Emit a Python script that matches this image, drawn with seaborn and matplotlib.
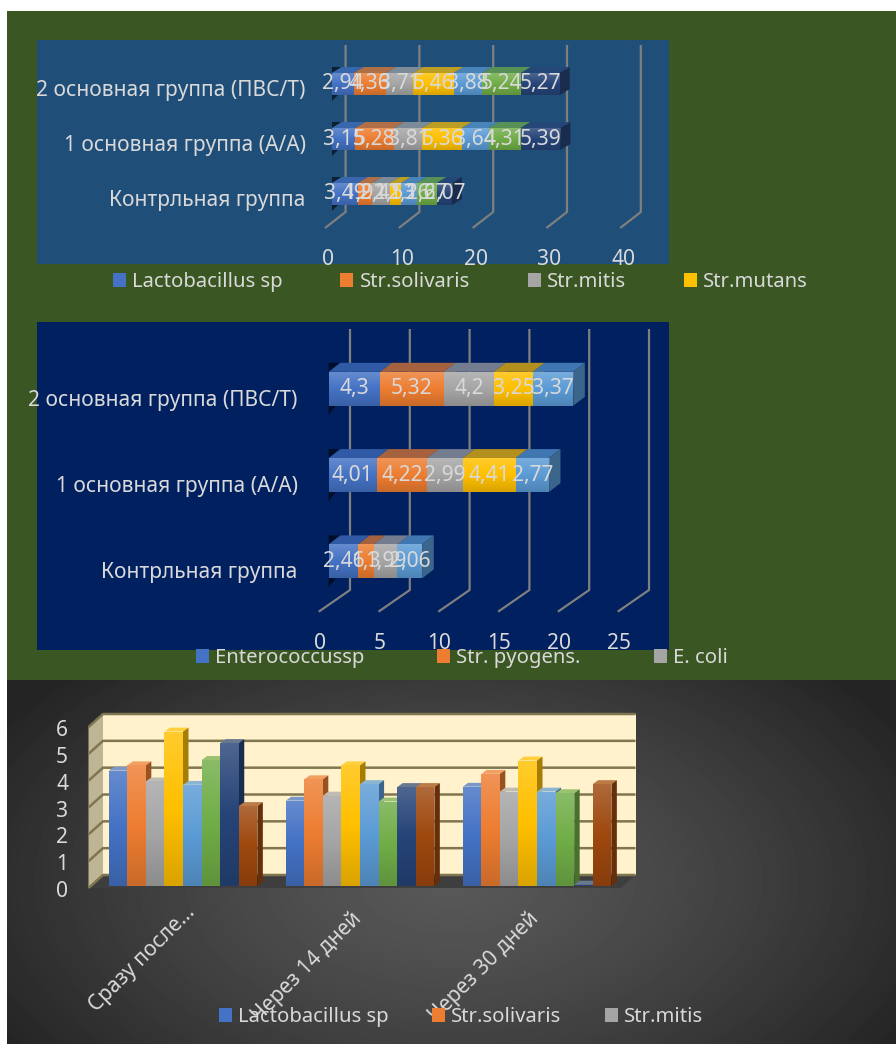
import numpy as np
import pandas as pd
import matplotlib
matplotlib.use("Agg")
import matplotlib.pyplot as plt
from matplotlib.colors import to_rgb
from matplotlib.patches import Patch, Polygon
from matplotlib.transforms import ScaledTranslation
import seaborn as sns

sns.set_theme(style="white")
plt.rcParams["font.family"] = ["Noto Sans", "DejaVu Sans"]

# Upper chart: oral flora by study group
groups = ["2 основная группа (ПВС/Т)", "1 основная группа (А/А)", "Контрльная группа"]
flora_names = ["Lactobacillus sp", "Str.solivaris", "Str.mitis", "Str.mutans",
               "Str.salivarius", "Str.sanguis", "Str.oralis"]
lactobacillus = [2.94, 3.15, 3.49]
solivaris = [4.36, 5.28, 1.92]
mitis = [3.71, 3.81, 2.41]
mutans = [5.46, 5.36, 1.53]
salivarius = [3.88, 3.64, 2.16]
sanguis = [5.24, 4.31, 2.67]
oralis = [5.27, 5.39, 2.07]
flora_series = [lactobacillus, solivaris, mitis, mutans, salivarius, sanguis, oralis]
flora_ticks = [0, 10, 20, 30, 40]
flora_legend = 4

# Middle chart: opportunistic flora by study group
opportunist_names = ["Enterococcussp", "Str. pyogens.", "E. coli", "S. aureus", "Candida"]
enterococcus = [4.3, 4.01, 2.46]
pyogenes = [5.32, 4.22, 1.3]
ecoli = [4.2, 2.99, 1.99]
aureus = [3.25, 4.41, 0.0]
candida = [3.37, 2.77, 2.06]
opportunist_series = [enterococcus, pyogenes, ecoli, aureus, candida]
opportunist_ticks = [0, 5, 10, 15, 20, 25]
opportunist_legend = 3

# Lower chart: counts over follow-up time
periods = ["Сразу после...", "Через 14 дней", "Через 30 дней"]
time_names = ["Lactobacillus sp", "Str.solivaris", "Str.mitis", "Str.mutans",
              "Str.salivarius", "Str.sanguis", "Str.oralis", "Enterococcus sp"]
time_values = [
    [4.3, 3.18, 3.7],
    [4.5, 3.98, 4.18],
    [3.9, 3.37, 3.52],
    [5.76, 4.5, 4.68],
    [3.77, 3.8, 3.52],
    [4.7, 3.15, 3.46],
    [5.33, 3.69, 0.05],
    [2.98, 3.69, 3.8],
]
time_ticks = [0, 1, 2, 3, 4, 5, 6]
time_legend = 3

office = ["#4472C4", "#ED7D31", "#A5A5A5", "#FFC000", "#5B9BD5", "#70AD47", "#264478", "#9E480E"]
TEXT = "#D9D9D9"
FONT = 15.1
LEGEND_FONT = 14.6
W, H = 896, 1044

fig = plt.figure(figsize=(W / 100, H / 100), dpi=100, facecolor="white")


def box(left, top, right, bottom):
    return fig.add_axes([left / W, 1 - bottom / H, (right - left) / W, (bottom - top) / H])


def mix(color, other, t):
    a, b = np.array(to_rgb(color)), np.array(to_rgb(other))
    return tuple(a * (1 - t) + b * t)


def shift(label, dx, dy):
    label.set_transform(label.get_transform() + ScaledTranslation(dx / 100, dy / 100, fig.dpi_scale_trans))


def shade(ax, rect, z):
    # Soft vertical sheen over a bar's front face
    x0, x1 = rect.get_x(), rect.get_x() + rect.get_width()
    y0, y1 = sorted((rect.get_y(), rect.get_y() + rect.get_height()))
    rows = np.linspace(0, 1, 32)
    rgba = np.zeros((32, 1, 4))
    rgba[:, 0, :3] = np.where(rows[:, None] < 0.5, 1.0, 0.0)
    rgba[:, 0, 3] = np.abs(rows - 0.5) * (0.36 * (rows < 0.5) + 0.30 * (rows >= 0.5))
    inverted = ax.yaxis_inverted()
    extent = (x0, x1, y1, y0) if inverted else (x0, x1, y0, y1)
    ax.imshow(rgba, extent=extent, aspect="auto", origin="upper", zorder=z, interpolation="bilinear")


def extrude(ax, rect, dx, dy, color, panel, z):
    # Top and right faces of a bar, offset into the chart depth
    x0, x1 = rect.get_x(), rect.get_x() + rect.get_width()
    y0, y1 = rect.get_y(), rect.get_y() + rect.get_height()
    ytop, ybot = (y0, y1) if ax.yaxis_inverted() else (y1, y0)
    ax.add_patch(Polygon([(x0, ytop), (x1, ytop), (x1 + dx, ytop + dy), (x0 + dx, ytop + dy)],
                         fc=mix(color, panel, 0.3), ec="none", zorder=z))
    ax.add_patch(Polygon([(x1, ytop), (x1 + dx, ytop + dy), (x1 + dx, ybot + dy), (x1, ybot)],
                         fc=mix(color, "black", 0.35), ec="none", zorder=z))


def add_legend(ax, names, colors, x, y, gap):
    handles = [Patch(fc=c, ec="none") for c in colors]
    ax.legend(handles, names, loc="center left", bbox_to_anchor=(x / W, 1 - y / H),
              bbox_transform=fig.transFigure, ncol=len(names), frameon=False, fontsize=LEGEND_FONT,
              labelcolor=TEXT, handlelength=0.64, handleheight=0.64, handletextpad=0.3,
              columnspacing=gap, borderpad=0, borderaxespad=0)


# Page background
bg = box(0, 0, W, H)
bg.set_xlim(0, W)
bg.set_ylim(H, 0)
bg.axis("off")
bg.fill_between([7, W], 11, 680, color="#3A5723", lw=0)
bg.fill_between([37, 669], 40, 264, color="#1F4E79", lw=0)
bg.fill_between([37, 669], 322, 650, color="#002060", lw=0)
yy, xx = np.mgrid[680:1044, 7:896]
rad = np.sqrt(((xx - 450) / 520.0) ** 2 + ((yy - 880) / 300.0) ** 2)
glow = np.clip(0.345 - 0.2 * np.clip(rad, 0, 1) ** 1.3, 0, 1)
bg.imshow(glow, extent=(7, W, 1044, 680), cmap="gray", vmin=0, vmax=1, aspect="auto", zorder=2)
bg.set_xlim(0, W)
bg.set_ylim(H, 0)


def stacked(frame, groups, names, series, ticks, n_legend, panel, x0, ppu, y0, step, bar_px,
            depth, grid, tick_dx, cat_dy, legend_at, legend_gap):
    left, top, right, bottom = frame
    ax = box(left, top, right, bottom)
    ax.patch.set_visible(False)
    px_x = lambda p: (p - x0) / ppu
    px_y = lambda p: (p - y0) / step
    dx, dy = depth[0] / ppu, -depth[1] / step
    back, front, grid_top, grid_bot, floor = grid
    for t in ticks:
        pos = t * ppu
        ax.plot([px_x(back + pos)] * 2 + [px_x(front + pos)],
                [px_y(grid_top), px_y(grid_bot), px_y(floor)],
                color="#7F7F7F", lw=1.6, zorder=1, solid_capstyle="butt")
    running = np.zeros(len(groups))
    for i, (vals, color) in enumerate(zip(series, office)):
        vals = np.array(vals, dtype=float)
        sns.barplot(x=vals, y=groups, order=groups, color=color, saturation=1, errorbar=None,
                    left=running, width=bar_px / step, ax=ax, orient="y", zorder=4 + i * 3,
                    linewidth=0)
        cont = ax.containers[-1]
        for rect in cont.patches:
            if rect.get_width() > 0:
                extrude(ax, rect, dx, dy, color, panel, 3 + i * 3)
                shade(ax, rect, 5 + i * 3)
        labels = [format(v, "g").replace(".", ",") if v > 0 else "" for v in vals]
        ax.bar_label(cont, labels=labels, label_type="center", color=TEXT, fontsize=FONT, zorder=60)
        running = running + vals
    # Shadow notches where the bars meet the axis wall
    for c in range(len(groups)):
        yc_top = c - bar_px / step / 2
        yc_bot = c + bar_px / step / 2
        ax.add_patch(Polygon([(0, yc_top), (dx * 0.9, yc_top + dy), (0, yc_top + dy)],
                             fc=mix(panel, "black", 0.6), ec="none", zorder=2))
        ax.add_patch(Polygon([(0, yc_bot), (dx * 0.6, yc_bot), (0, yc_bot - dy)],
                             fc=mix(panel, "black", 0.6), ec="none", zorder=2))
    ax.set_xlim(px_x(left), px_x(right))
    ax.set_ylim(px_y(bottom), px_y(top))
    ax.set_xticks(ticks)
    ax.set_xticklabels([str(t) for t in ticks])
    ax.tick_params(axis="both", length=0, pad=1, labelsize=FONT, labelcolor=TEXT)
    ax.tick_params(axis="x", pad=2.5)
    ax.set_xlabel("")
    ax.set_ylabel("")
    ax.grid(False)
    sns.despine(ax=ax, left=True, bottom=True)
    for lab in ax.get_xticklabels():
        shift(lab, tick_dx, 0)
    for lab in ax.get_yticklabels():
        shift(lab, 0, -cat_dy)
    add_legend(ax, names[:n_legend], office[:n_legend], legend_at[0], legend_at[1], legend_gap)
    return ax


stacked((307, 40, 669, 246), groups, flora_names, flora_series, flora_ticks, flora_legend,
        "#1F4E79", x0=332, ppu=7.38, y0=84, step=55, bar_px=22, depth=(10, 6),
        grid=(345.6, 325, 45, 212, 228), tick_dx=-4, cat_dy=4,
        legend_at=(113, 282), legend_gap=2.85)

stacked((299, 322, 669, 630), groups, opportunist_names, opportunist_series, opportunist_ticks,
        opportunist_legend, "#002060", x0=328.7, ppu=11.96, y0=388.8, step=86.3, bar_px=34,
        depth=(11.7, 9), grid=(350, 318.7, 329, 590, 611.7), tick_dx=-9, cat_dy=9,
        legend_at=(196, 658), legend_gap=3.6)

# Lower chart: clustered columns in front of a cream wall
ax3 = box(75, 700, 660, 900)
ax3.patch.set_visible(False)
px3_x = lambda p: (p - 183) / 177
px3_y = lambda p: (886 - p) / 26.8
ax3.add_patch(Polygon([(px3_x(103), px3_y(714)), (px3_x(635.5), px3_y(714)),
                       (px3_x(635.5), px3_y(875)), (px3_x(103), px3_y(875))],
                      fc="#FFF2CC", ec="none", zorder=0.5))
ax3.add_patch(Polygon([(px3_x(88.5), px3_y(727)), (px3_x(103), px3_y(714)),
                       (px3_x(103), px3_y(875)), (px3_x(88.5), px3_y(888))],
                      fc="#BDB594", ec="none", zorder=0.5))
ax3.add_patch(Polygon([(px3_x(88.5), px3_y(888)), (px3_x(103), px3_y(875)),
                       (px3_x(635.5), px3_y(875)), (px3_x(621), px3_y(888))],
                      fc="#3E3E3E", ec="none", zorder=0.5))
for level in time_ticks:
    wall_y = 875 - level * 26.83
    ax3.plot([px3_x(88.5), px3_x(103), px3_x(635.5)],
             [px3_y(wall_y + 13), px3_y(wall_y), px3_y(wall_y)],
             color="#7F7650", lw=1.8, zorder=1, solid_capstyle="butt")

long_time = pd.DataFrame({
    "period": [p for _ in time_names for p in periods],
    "species": [n for n in time_names for _ in periods],
    "count": [v for row in time_values for v in row],
})
sns.barplot(data=long_time, x="period", y="count", hue="species", order=periods, hue_order=time_names,
            palette=office, saturation=1, errorbar=None, width=0.84, dodge=True, legend=False, ax=ax3,
            linewidth=0)
for i, (cont, color) in enumerate(zip(ax3.containers, office)):
    for rect in cont.patches:
        rect.set_zorder(4 + i * 3)
        extrude(ax3, rect, 5.5 / 177, 4 / 26.8, color, "#FFF2CC", 3 + i * 3)
        shade(ax3, rect, 5 + i * 3)
ax3.set_xlim(px3_x(75), px3_x(660))
ax3.set_ylim(px3_y(900), px3_y(700))
ax3.set_yticks(time_ticks)
ax3.set_xlabel("")
ax3.set_ylabel("")
ax3.grid(False)
ax3.tick_params(axis="both", length=0, labelsize=FONT, labelcolor=TEXT)
ax3.tick_params(axis="y", pad=5)
ax3.tick_params(axis="x", pad=11)
sns.despine(ax=ax3, left=True, bottom=True)
for lab in ax3.get_yticklabels():
    shift(lab, 0, -3)
ax3.set_xticks(range(len(periods)))
ax3.set_xticklabels(periods, rotation=45, ha="right", va="center", rotation_mode="anchor")
for lab, (nudge_x, nudge_y) in zip(ax3.get_xticklabels(), [(9, 6), (-2, 0), (-2, 0)]):
    shift(lab, nudge_x, nudge_y)
add_legend(ax3, time_names[:time_legend], office[:time_legend], 219, 1017, 2.15)

fig.savefig("out.png", dpi=100, facecolor="white")
